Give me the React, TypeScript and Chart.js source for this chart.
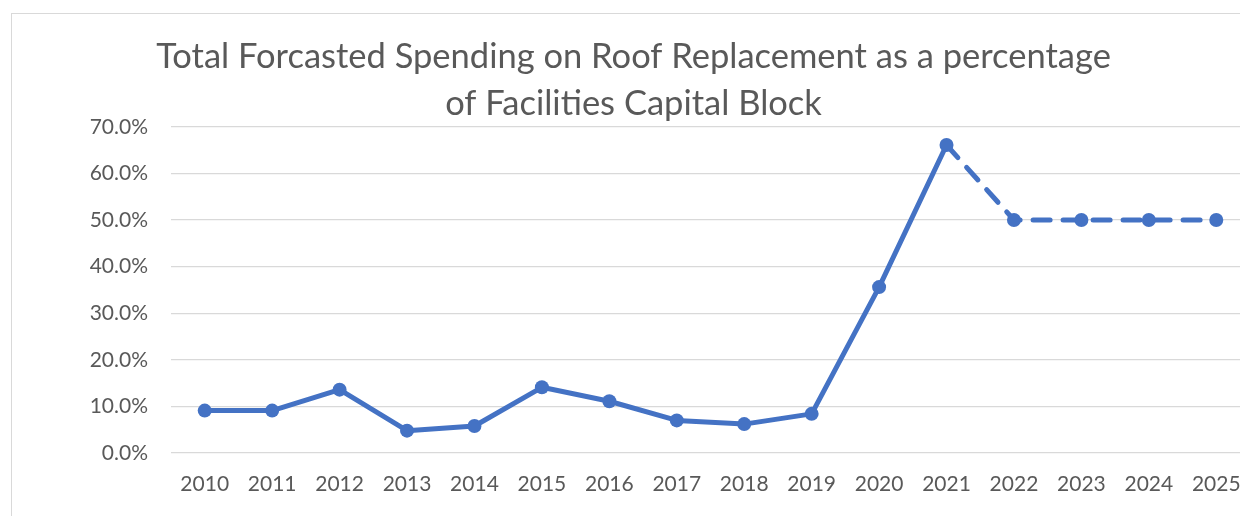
import React, { useEffect, useRef } from "react";
import { Chart, registerables } from "chart.js";

Chart.register(...registerables);

const years = ["2010", "2011", "2012", "2013", "2014", "2015", "2016", "2017", "2018", "2019", "2020", "2021", "2022", "2023", "2024", "2025"];
const spendingPct = [9.1, 9.1, 13.6, 4.8, 5.8, 14.1, 11.1, 7.0, 6.2, 8.4, 35.6, 66.1, 50.0, 50.0, 50.0, 50.0];
const forecastStartIndex = 11;
const titleLines = ["Total Forcasted Spending on Roof Replacement as a percentage", "of Facilities Capital Block"];
const yMin = 0;
const yMax = 70;
const yStep = 10;

const FONT = "Lato, 'Open Sans', sans-serif";
const TEXT = "#595959";
const BLUE = "#4472C4";

export default function App() {
  const ref = useRef<HTMLCanvasElement | null>(null);
  useEffect(() => {
    if (!ref.current) return;
    const chart = new Chart(ref.current, {
      type: "line",
      data: {
        labels: years,
        datasets: [
          {
            data: spendingPct,
            borderColor: BLUE,
            backgroundColor: BLUE,
            borderWidth: 5,
            pointRadius: 7,
            pointHoverRadius: 7,
            pointBackgroundColor: BLUE,
            pointBorderColor: BLUE,
            pointBorderWidth: 0,
            tension: 0,
            borderCapStyle: "round",
            borderJoinStyle: "round",
            segment: {
              borderDash: (ctx: any) => (ctx.p0DataIndex >= forecastStartIndex ? [17, 13] : undefined),
            },
          },
        ],
      },
      options: {
        animation: false,
        responsive: false,
        maintainAspectRatio: false,
        layout: { padding: { top: 0, right: 2, bottom: 0, left: 0 } },
        plugins: {
          legend: { display: false },
          tooltip: { enabled: false },
          title: {
            display: true,
            text: titleLines,
            color: TEXT,
            font: { family: FONT, size: 34.5, weight: "normal", lineHeight: 1.36 },
            padding: { top: 19, bottom: 0 },
          },
        },
        scales: {
          x: {
            offset: true,
            grid: { display: false, drawTicks: true, tickLength: 19 },
            border: { display: false },
            ticks: { color: TEXT, font: { family: FONT, size: 21 }, padding: 0, maxRotation: 0, autoSkip: false },
            afterFit: (s: any) => {
              s.height = 81;
            },
          },
          y: {
            min: yMin,
            max: yMax,
            grid: { color: "#d9d9d9", lineWidth: 1.3, drawTicks: false },
            border: { display: false },
            ticks: {
              stepSize: yStep,
              color: TEXT,
              font: { family: FONT, size: 21 },
              padding: 23,
              callback: (v: any) => Number(v).toFixed(1) + "%",
            },
            afterFit: (s: any) => {
              s.width = 159;
            },
          },
        },
      },
    });
    return () => chart.destroy();
  }, []);

  return (
    <div style={{ width: 1240, height: 508, overflow: "hidden", position: "relative" }}>
      <div
        style={{
          position: "absolute",
          left: 3,
          top: 5,
          width: 1245,
          height: 520,
          border: "1px solid #d9d9d9",
          background: "#fff",
        }}
      >
        <canvas ref={ref} width={1245} height={520} style={{ display: "block", width: 1245, height: 520 }} />
      </div>
    </div>
  );
}
